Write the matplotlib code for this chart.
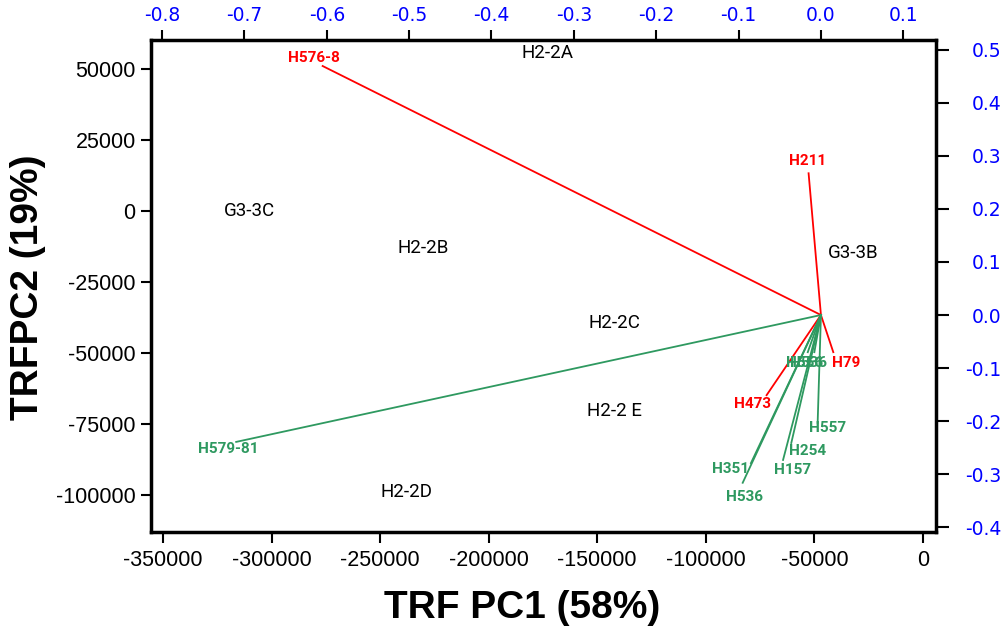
import matplotlib
matplotlib.use("Agg")
import matplotlib.pyplot as plt

plt.rcParams["axes.unicode_minus"] = False

# sample scores (main axes, TRF PC1 / PC2)
site_names = ["H2-2A", "G3-3C", "H2-2B", "G3-3B", "H2-2C", "H2-2 E", "H2-2D"]
site_pc1 = [-173000, -310000, -230000, -32000, -142000, -142000, -238000]
site_pc2 = [55600, 0, -13000, -14800, -39400, -70400, -98900]

# variable loadings (secondary axes)
red_names = ["H576-8", "H211", "H79", "H473"]
red_x = [-0.605, -0.015, 0.015, -0.066]
red_y = [0.469, 0.267, -0.070, -0.151]

green_names = ["H579-81", "H557", "H254", "H157", "H351", "H536", "H556", "H536"]
green_x = [-0.710, -0.004, -0.036, -0.046, -0.085, -0.095, -0.016, -0.008]
green_y = [-0.239, -0.203, -0.241, -0.273, -0.279, -0.316, -0.070, -0.070]

# label offsets in points from vector tips
red_off = [(-6, 6), (-1, 9), (9, -8), (-10, -6)]
green_off = [(-6, -5), (7, -4), (12, -6), (7, -7), (-15, -4), (1, -10), (-2, -8), (-4, -8)]

RED = "#ff0000"
GREEN = "#2e9960"
BLUE = "#0000ff"

fig = plt.figure(figsize=(10.04, 6.30), dpi=100)
pos = [151 / 1004, 98 / 630, 785 / 1004, 492 / 630]

ax = fig.add_axes(pos)
ax.set_xlim(-355500, 6000)
ax.set_ylim(-113000, 60200)
ax.set_xticks([-350000, -300000, -250000, -200000, -150000, -100000, -50000, 0])
ax.set_yticks([-100000, -75000, -50000, -25000, 0, 25000, 50000])
for s in ax.spines.values():
    s.set_linewidth(2.5)
ax.tick_params(axis="x", length=8, width=1.5, pad=5, labelsize=15.5)
ax.tick_params(axis="y", length=7, width=1.5, pad=4, labelsize=15.5)
for lab in ax.get_xticklabels() + ax.get_yticklabels():
    lab.set_fontfamily("Liberation Sans")

for name, x, y in zip(site_names, site_pc1, site_pc2):
    ax.text(x, y, name, ha="center", va="center", fontsize=13.5,
            family="Roboto", color="black")

ax2 = fig.add_axes(pos, frameon=False)
ax2.set_xlim(-0.8134, 0.1397)
ax2.set_ylim(-0.4087, 0.518)
ax2.xaxis.tick_top()
ax2.yaxis.tick_right()
ax2.set_xticks([-0.8, -0.7, -0.6, -0.5, -0.4, -0.3, -0.2, -0.1, 0.0, 0.1])
ax2.set_yticks([-0.4, -0.3, -0.2, -0.1, 0.0, 0.1, 0.2, 0.3, 0.4, 0.5])
ax2.tick_params(axis="x", length=7, width=1.5, pad=4, labelsize=13.5, labelcolor=BLUE)
ax2.tick_params(axis="y", length=9, width=1.5, pad=38, labelsize=13.5, labelcolor=BLUE)
for lab in ax2.get_yticklabels():
    lab.set_horizontalalignment("right")
ax2.xaxis.set_major_formatter(plt.FuncFormatter(lambda v, p: f"{v:.1f}"))
ax2.yaxis.set_major_formatter(plt.FuncFormatter(lambda v, p: f"{v:.1f}"))

for names, xs, ys, offs, col in [(red_names, red_x, red_y, red_off, RED),
                                  (green_names, green_x, green_y, green_off, GREEN)]:
    for name, x, y, off in zip(names, xs, ys, offs):
        ax2.plot([0, x], [0, y], color=col, linewidth=1.3)
        ax2.annotate(name, (x, y), xytext=off, textcoords="offset points",
                     ha="center", va="center", fontsize=11, fontweight="bold",
                     family="Roboto", color=col)

fig.text(522 / 1004, 1 - 608 / 630, "TRF PC1 (58%)", ha="center", va="center",
         fontsize=28, fontweight="bold", family="Liberation Sans")
fig.text(28 / 1004, 1 - 287 / 630, "TRFPC2 (19%)", ha="center", va="center",
         rotation=90, fontsize=28, fontweight="bold", family="Liberation Sans")

fig.savefig("out.png", dpi=100, facecolor="white")
